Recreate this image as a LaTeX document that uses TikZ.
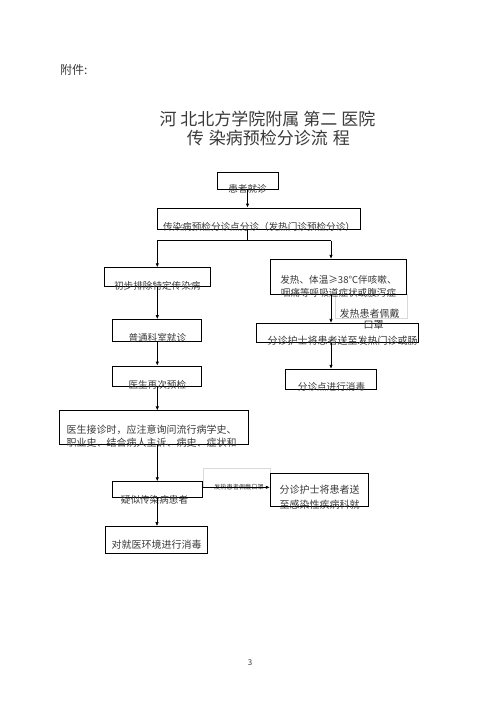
\documentclass[tikz,border=0pt]{standalone}
\usepackage{fontspec}
\setmainfont{Noto Sans CJK SC}
\usetikzlibrary{arrows.meta}
\definecolor{txt}{HTML}{3A3A3A}
\tikzset{
  box/.style={draw=black, line width=0.7pt, inner sep=0pt, fill=none},
  faint/.style={draw=black!15, line width=0.6pt, inner sep=0pt},
  lbl/.style={inner sep=0pt, text=txt, font=\fontsize{9.6}{11}\selectfont},
  wlbl/.style={inner sep=0pt, text=txt, font=\fontsize{10}{11}\selectfont},
  small/.style={inner sep=0pt, text=txt, font=\fontsize{6.2}{7}\selectfont},
  conn/.style={draw=black, line width=0.7pt},
  arr/.style={conn, -{Latex[length=4pt,width=3.4pt]}}
}
\begin{document}
\begin{tikzpicture}[x=1pt,y=-1pt]
\useasboundingbox[fill=white] (0,0) rectangle (500,707);

% header
\node[inner sep=0pt, text=txt, font=\fontsize{12}{14}\selectfont, anchor=west] (att) at (60,70) {附件:};
\node[inner sep=0pt, text=txt, font=\fontsize{17}{20}\selectfont] (t1) at (267.5,118.5) {河\hspace{4pt}北北方学院附属\hspace{4pt}第二\hspace{4pt}医院};
\node[inner sep=0pt, text=txt, font=\fontsize{17}{20}\selectfont] (t2) at (268.3,138.5) {传\hspace{5pt}染病预检分诊流\hspace{5pt}程};

% faint label frames
\node[faint, minimum width=72pt, minimum height=24pt] (lab1) at (371,306) {};
\node[faint, minimum width=67pt, minimum height=19pt] (lab2) at (236.5,477.5) {};

% boxes
\node[box, minimum width=61pt, minimum height=17pt] (b1) at (247.5,180.5) {};
\node[box, minimum width=203pt, minimum height=21pt] (b2) at (258.5,218.5) {};
\node[box, minimum width=106pt, minimum height=19pt] (l1) at (157.3,277.2) {};
\node[box, minimum width=136pt, minimum height=35pt] (r1) at (338.7,276.7) {};
\node[box, minimum width=162pt, minimum height=19pt] (r2) at (337,332.8) {};
\node[box, minimum width=91pt, minimum height=20pt] (r3) at (331.2,379.2) {};
\node[box, minimum width=89pt, minimum height=22pt] (l2) at (157.3,330.5) {};
\node[box, minimum width=89pt, minimum height=20pt] (l3) at (157.3,376) {};
\node[box, minimum width=189pt, minimum height=34pt] (big) at (153.8,427.8) {};
\node[box, minimum width=90pt, minimum height=16pt] (l4) at (157,489.7) {};
\node[box, minimum width=102pt, minimum height=27pt] (l5) at (156,540) {};
\node[box, minimum width=98pt, minimum height=33pt] (r4) at (319.2,490) {};

% texts
\node[lbl] (b1t) at (247.5,188.5) {患者就诊};
\node[lbl] (b2t) at (259,227) {传染病预检分诊点分诊（发热门诊预检分诊）};
\node[lbl] (l1t) at (157.3,285.5) {初步排除特定传染病};
\node[lbl] (r1ta) at (338.5,279.5) {发热、体温≥38℃伴咳嗽、};
\node[lbl] (r1tb) at (338.5,292.5) {咽痛等呼吸道症状或腹泻症};
\node[wlbl] (lab1t) at (369.5,313.5) {发热患者佩戴};
\node[wlbl] (lab1u) at (373.5,325) {口罩};
\node[wlbl] (r2t) at (342.5,340.8) {分诊护士将患者送至发热门诊或肠};
\node[lbl] (r3t) at (331.5,387) {分诊点进行消毒};
\node[lbl] (l2t) at (157.3,338) {普通科室就诊};
\node[lbl] (l3t) at (157.3,385) {医生再次预检};
\node[wlbl, anchor=west] (bigta) at (66.5,429.5) {医生接诊时，应注意询问流行病学史、};
\node[wlbl, anchor=west] (bigtb) at (66.5,443) {职业史、结合病人主诉、病史、症状和};
\node[lbl] (l4t) at (154.5,499.5) {疑似传染病患者};
\node[wlbl] (l5t) at (156.5,545) {对就医环境进行消毒};
\node[wlbl] (r4ta) at (319.5,490) {分诊护士将患者送};
\node[wlbl] (r4tb) at (319.5,505) {至感染性疾病科就};
\node[small] (lab2t) at (239,487.3) {发热患者佩戴口罩};
\node[inner sep=0pt, text=txt, font=\fontsize{8}{9}\selectfont] (pg) at (250,663) {3};

% connectors
\coordinate (split) at (247.5,240.7);
\coordinate (sl) at (157.3,240.7);
\coordinate (sr) at (331,240.7);
\coordinate (hstart) at (201.7,487.3);
\draw[arr] (b1.south) -- (b1.south |- b2.north);
\draw[conn] (b1.south |- b2.south) -- (split);
\draw[conn] (sl) -- (sr);
\draw[arr] (sl) -- (l1.north);
\draw[arr] (sr) -- (sr |- r1.north);
\draw[arr] (sr |- r1.south) -- (sr |- r2.north);
\draw[arr] (sr |- r2.south) -- (sr |- r3.north);
\draw[arr] (l1.south) -- (l2.north);
\draw[arr] (l2.south) -- (l3.north);
\draw[arr] (l3.south) -- (l3.south |- big.north);
\draw[arr] (l3.south |- big.south) -- (l3.south |- l4.north);
\draw[arr] (l4.south) -- (l4.south |- l5.north);
\draw[arr] (hstart) -- (hstart -| r4.west);
\end{tikzpicture}
\end{document}
